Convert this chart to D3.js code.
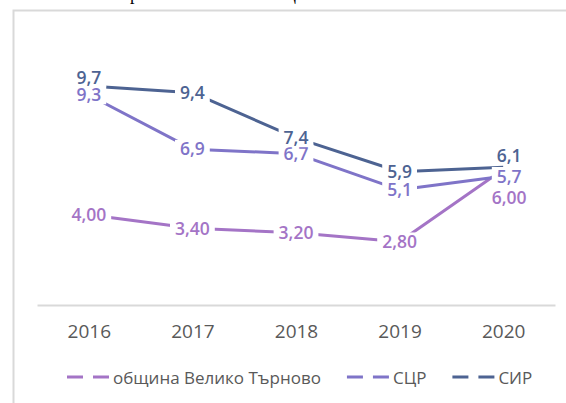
<!DOCTYPE html>
<html><head><meta charset="utf-8">
<script src="https://cdn.jsdelivr.net/npm/d3@7"></script>
<style>
html,body{margin:0;padding:0;background:#fff;}
svg{display:block;}
</style></head>
<body>
<script>
// ---- data ----
const years = ["2016", "2017", "2018", "2019", "2020"];
const seriesNames = ["община Велико Търново", "СЦР", "СИР"];
const municipality = [4.00, 3.40, 3.20, 2.80, 6.00];
const scr = [9.3, 6.9, 6.7, 5.1, 5.7];
const sir = [9.7, 9.4, 7.4, 5.9, 6.1];
const labelFormats = [",.2f", ",.1f", ",.1f"];

// ---- layout / style ----
const W = 566, H = 403;
const colors = ["#a474c6", "#7f74c8", "#4d6392"];
// label nudges (px) for a few labels that are moved off their point
const nudges = [
  {4: [6, 28]},
  {4: [6, 0]},
  {0: [0, -8], 4: [6, -12]}
];
const seriesValues = [municipality, scr, sir];

const svg = d3.select("body").append("svg").attr("width", W).attr("height", H);

// cut-off text line from the document above
svg.append("text").attr("x", 130).attr("y", 0).attr("font-family", "Liberation Serif")
  .attr("font-size", 18).attr("fill", "#000").text("р");
svg.append("text").attr("x", 283).attr("y", 0).attr("font-family", "Liberation Serif")
  .attr("font-size", 18).attr("fill", "#000").text("Ц");

// chart frame
svg.append("rect").attr("x", 13.5).attr("y", 10.5).attr("width", 700).attr("height", 500)
  .attr("fill", "none").attr("stroke", "#d9d9d9").attr("stroke-width", 2);

const x = d3.scalePoint().domain(years).range([37, 555]).padding(0.5);
const y = d3.scaleLinear().domain([0, 12]).range([305, 34]);

// x axis
const ax = svg.append("g").attr("transform", "translate(0,305)")
  .call(d3.axisBottom(x).tickSize(0).tickPadding(20));
ax.select(".domain").attr("stroke", "#d9d9d9").attr("stroke-width", 2);
ax.selectAll("text").attr("font-family", "Open Sans").attr("font-size", 19).attr("fill", "#595959");

// lines
const line = d3.line().x((d, i) => x(years[i])).y(d => y(d));
seriesValues.forEach((vals, s) => {
  svg.append("path").datum(vals).attr("d", line).attr("fill", "none")
    .attr("stroke", colors[s]).attr("stroke-width", 3).attr("stroke-linejoin", "round");
});

// data labels with white boxes
const fs = 17.5;
seriesValues.forEach((vals, s) => {
  const fmt = d3.format(labelFormats[s]);
  vals.forEach((v, i) => {
    const n = nudges[s][i] || [0, 0];
    const cx = x(years[i]) + n[0], cy = y(v) + n[1];
    const g = svg.append("g");
    const r = g.append("rect").attr("fill", "#fff");
    const t = g.append("text").attr("x", cx).attr("y", cy).attr("dy", "0.36em")
      .attr("text-anchor", "middle").attr("font-family", "Open Sans").attr("font-weight", 600)
      .attr("font-size", fs).attr("fill", colors[s])
      .text(fmt(v).replace(".", ","));
    const w = t.node().getComputedTextLength();
    const h = fs * 0.72;
    r.attr("x", cx - w / 2 - 5).attr("y", cy - h / 2 - 3).attr("width", w + 10).attr("height", h + 6);
  });
});

// legend
let lx = 67;
const ly = 377;
seriesNames.forEach((name, s) => {
  svg.append("line").attr("x1", lx).attr("x2", lx + 43).attr("y1", ly).attr("y2", ly)
    .attr("stroke", colors[s]).attr("stroke-width", 3).attr("stroke-dasharray", "16,10");
  const t = svg.append("text").attr("x", lx + 46).attr("y", ly + 7)
    .attr("font-family", "Open Sans").attr("font-size", 17).attr("fill", "#595959").text(name);
  lx += 46 + t.node().getComputedTextLength() + 26;
});
</script>
</body></html>
